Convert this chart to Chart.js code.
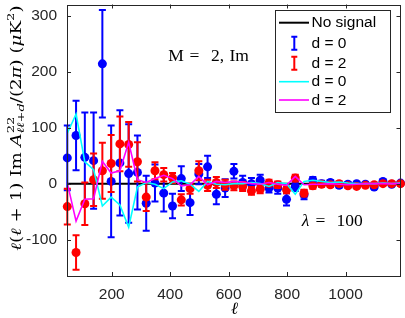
<!DOCTYPE html>
<html><head><meta charset="utf-8">
<script src="https://cdn.jsdelivr.net/npm/chart.js@4"></script>
<style>html,body{margin:0;padding:0;background:#fff;overflow:hidden}</style>
</head><body>
<canvas id="c" width="405" height="318" style="display:block;width:405px;height:318px"></canvas>
<script>
// ---- data ----
const ell = [48,78,108,138,168,198,228,258,288,318,348,378,408,438,468,498,528,558,588,618,648,678,708,738,768,798,828,858,888,918,948,978,1008,1038,1068,1098,1128,1158,1188];
const d0Val = [46,86,47,41,214,4,37,18,20,-35,1,-17,-40,9,-34,17,30,-19,-8,22,2,0,6,-8,-8,-28,-5,-20,6,0,2,-3,-1,0,-1,-6,4,-1,1];
const d0Err = [58,62,80,86,96,100,94,88,66,49,33,33,22,22,22,18,20,18,16,13,12,10,10,8,10,11,8,8,6,5,4,4,4,3,3,3,3,3,3];
const d2Val = [-41,-123,-36,7,23,36,71,70,39,-24,23,16,10,-29,-9,23,-3,2,-2,-4,-5,-13,-10,1,-2,-11,10,-17,-4,-1,-2,0,-4,-5,-3,-2,0,0,0];
const d2Err = [32,31,38,47,50,51,49,40,35,25,15,12,9,10,9,17,10,10,9,8,8,7,7,6,6,6,6,6,5,4,4,4,3,3,3,3,3,3,3];
const d0Model = [90,124,39,25,-40,-24,-38,-78,-6,2,-1,-9,3,5,-1,-14,4,-1,-2,0,0,2,0,-5,2,0,-19,4,6,4,2,3,1,0,0,0,1,0,1];
const d2Model = [1,-67,-28,-27,40,19,23,74,7,2,9,15,9,-4,-2,13,-2,4,2,4,3,0,-1,2,-1,-3,13,-2,-1,-1,0,-1,-2,-1,0,0,0,0,0];
const noSignalEll = [47,1188];
const noSignal = [0,0];
const xTicks = [200,400,600,800,1000];
const yTicks = [-100,0,100,200,300];
const xRange = [47,1188];
const yRange = [-165,320];
const labels = ['No signal','d = 0','d = 2','d = 0','d = 2'];

const toPts = (xs, ys) => xs.map((x,i)=>({x:x, y:ys[i]}));
const AX = '#262626';
const SANS = '"Liberation Sans", Arial, sans-serif';
const SERIF = '"DejaVu Serif", "Liberation Serif", serif';
const TSERIF = '"Liberation Serif", serif';

function drawRich(ctx, segs, x, y, targetW) {
  let w = 0;
  const widths = segs.map(s => {
    if (s.stack) {
      let m = 0;
      s.stack.forEach(p => { ctx.font = p.f; m = Math.max(m, ctx.measureText(p.t).width); });
      return m;
    }
    ctx.font = s.f; return ctx.measureText(s.t).width;
  });
  widths.forEach(v => w += v);
  const k = targetW ? targetW / w : 1;
  ctx.save();
  ctx.translate(x, y);
  ctx.scale(k, 1);
  let cx = -w / 2;
  ctx.textAlign = 'left'; ctx.textBaseline = 'alphabetic';
  segs.forEach((s, i) => {
    const parts = s.stack ? s.stack : [s];
    parts.forEach(p => { ctx.font = p.f; ctx.fillText(p.t, cx, -(p.dy || 0)); });
    cx += widths[i];
  });
  ctx.restore();
}

const errorBars = {
  id: 'errorBars',
  beforeDatasetDraw(chart, args) {
    const ds = chart.data.datasets[args.index];
    if (!ds.errors) return;
    const xs = chart.scales.x, ys = chart.scales.y, ctx = chart.ctx;
    ctx.save();
    ctx.strokeStyle = ds.borderColor; ctx.lineWidth = 2;
    ds.data.forEach((p, i) => {
      const e = ds.errors[i];
      const px = xs.getPixelForValue(p.x);
      const y1 = ys.getPixelForValue(p.y + e), y2 = ys.getPixelForValue(p.y - e);
      ctx.beginPath();
      ctx.moveTo(px, y1); ctx.lineTo(px, y2);
      ctx.moveTo(px - 3.5, y1); ctx.lineTo(px + 3.5, y1);
      ctx.moveTo(px - 3.5, y2); ctx.lineTo(px + 3.5, y2);
      ctx.stroke();
    });
    ctx.restore();
  }
};

const frame = {
  id: 'frame',
  afterDraw(chart) {
    const ctx = chart.ctx, a = chart.chartArea, xs = chart.scales.x, ys = chart.scales.y;
    ctx.save();
    ctx.strokeStyle = AX; ctx.lineWidth = 1;
    ctx.strokeRect(Math.round(a.left) + 0.5, Math.round(a.top) + 0.5, Math.round(a.right - a.left) - 1, Math.round(a.bottom - a.top) - 1);
    ctx.beginPath();
    xTicks.forEach(v => {
      const px = Math.round(xs.getPixelForValue(v)) + 0.5;
      ctx.moveTo(px, a.bottom); ctx.lineTo(px, a.bottom - 4);
      ctx.moveTo(px, a.top); ctx.lineTo(px, a.top + 4);
    });
    yTicks.forEach(v => {
      const py = Math.round(ys.getPixelForValue(v)) + 0.5;
      ctx.moveTo(a.left, py); ctx.lineTo(a.left + 4, py);
      ctx.moveTo(a.right, py); ctx.lineTo(a.right - 4, py);
    });
    ctx.stroke();

    // legend
    const lx = 275.5, ly = 10.5, lw = 115, lh = 102;
    ctx.fillStyle = '#fff'; ctx.fillRect(lx, ly, lw, lh);
    ctx.strokeStyle = AX; ctx.lineWidth = 1; ctx.strokeRect(lx, ly, lw, lh);
    const rows = [22.7, 43.3, 63.3, 81.7, 100];
    const dss = chart.data.datasets;
    rows.forEach((ry, i) => {
      const ds = dss[i];
      ctx.strokeStyle = ds.borderColor;
      ctx.beginPath();
      if (ds.errors) {
        ctx.lineWidth = 2;
        ctx.moveTo(294.3, ry - 6.5); ctx.lineTo(294.3, ry + 6.5);
        ctx.moveTo(291.3, ry - 6.5); ctx.lineTo(297.3, ry - 6.5);
        ctx.moveTo(291.3, ry + 6.5); ctx.lineTo(297.3, ry + 6.5);
      } else {
        ctx.lineWidth = ds.borderWidth;
        ctx.moveTo(279, ry); ctx.lineTo(309, ry);
      }
      ctx.stroke();
      ctx.fillStyle = '#000'; ctx.font = '15.5px ' + SANS;
      ctx.textAlign = 'left'; ctx.textBaseline = 'middle';
      ctx.fillText(ds.label, 311.5, ry + 0.5);
    });

    // annotations
    ctx.fillStyle = '#000';
    ctx.font = '17.5px ' + TSERIF; ctx.textBaseline = 'alphabetic';
    ctx.textAlign = 'center';
    ctx.fillText('M', 176, 61);
    ctx.fillText('=', 194.5, 61);
    ctx.textAlign = 'left';
    ctx.fillText('2,', 211, 61);
    ctx.fillText('Im', 229.5, 61);
    ctx.font = 'italic 17.5px ' + TSERIF; ctx.textAlign = 'center';
    ctx.fillText('λ', 305.5, 226);
    ctx.font = '17.5px ' + TSERIF;
    ctx.fillText('=', 320.5, 226);
    ctx.textAlign = 'left';
    ctx.fillText('100', 336.5, 226);

    // x title
    ctx.font = 'italic 17px ' + TSERIF; ctx.textAlign = 'center';
    ctx.fillText('ℓ', 234.5, 314);

    // y title
    const N = '14px ' + SERIF, I = 'italic 14px ' + SERIF, S = '10px ' + SERIF, SI = 'italic 10px ' + SERIF;
    ctx.save();
    ctx.translate(20.5, 128);
    ctx.rotate(-Math.PI / 2);
    drawRich(ctx, [
      {t:'ℓ', f:I}, {t:'(', f:N}, {t:'ℓ', f:I}, {t:' + 1) Im ', f:N}, {t:'A', f:I},
      {stack:[{t:'22', f:S, dy:6.5}, {t:'ℓℓ+d', f:SI, dy:-3.5}]},
      {t:'/(2', f:N}, {t:'π', f:I}, {t:') (', f:N}, {t:'μ', f:I}, {t:'K', f:N},
      {t:'2', f:S, dy:6.5}, {t:')', f:N}
    ], 0, 0, 245);
    ctx.restore();
    ctx.restore();
  }
};

const noPad = s => { s.paddingTop = 0; s.paddingBottom = 0; s.paddingLeft = 0; s.paddingRight = 0; };

new Chart(document.getElementById('c'), {
  type: 'scatter',
  data: {
    datasets: [
      {label: labels[0], data: toPts(noSignalEll, noSignal), showLine: true, borderColor: '#000000', borderWidth: 2, pointRadius: 0, order: 5},
      {label: labels[1], data: toPts(ell, d0Val), errors: d0Err, showLine: false, pointRadius: 4.5, backgroundColor: '#0000ff', borderColor: '#0000ff', borderWidth: 0, order: 4, clip: false},
      {label: labels[2], data: toPts(ell, d2Val), errors: d2Err, showLine: false, pointRadius: 4.5, backgroundColor: '#ff0000', borderColor: '#ff0000', borderWidth: 0, order: 3, clip: false},
      {label: labels[3], data: toPts(ell, d0Model), showLine: true, borderColor: '#00ffff', borderWidth: 1.6, pointRadius: 0, order: 2},
      {label: labels[4], data: toPts(ell, d2Model), showLine: true, borderColor: '#ff00ff', borderWidth: 1.6, pointRadius: 0, order: 1}
    ]
  },
  options: {
    responsive: false, animation: false, devicePixelRatio: 1, events: [],
    layout: {padding: {left: 0, right: 4, top: 1, bottom: 0}},
    plugins: {legend: {display: false}, tooltip: {enabled: false}},
    scales: {
      x: {
        type: 'linear', min: xRange[0], max: xRange[1],
        grid: {display: false, drawTicks: false}, border: {display: false},
        afterBuildTicks: s => { s.ticks = xTicks.map(v => ({value: v})); },
        afterFit: s => { s.height = 42; noPad(s); },
        ticks: {font: {family: SANS, size: 15.5}, color: AX, padding: 9, maxRotation: 0, callback: v => String(v)}
      },
      y: {
        type: 'linear', min: yRange[0], max: yRange[1],
        grid: {display: false, drawTicks: false}, border: {display: false},
        afterBuildTicks: s => { s.ticks = yTicks.map(v => ({value: v})); },
        afterFit: s => { s.width = 67; noPad(s); },
        ticks: {font: {family: SANS, size: 15.5}, color: AX, padding: 10, callback: v => String(v)}
      }
    }
  },
  plugins: [errorBars, frame]
});
</script>
</body></html>
